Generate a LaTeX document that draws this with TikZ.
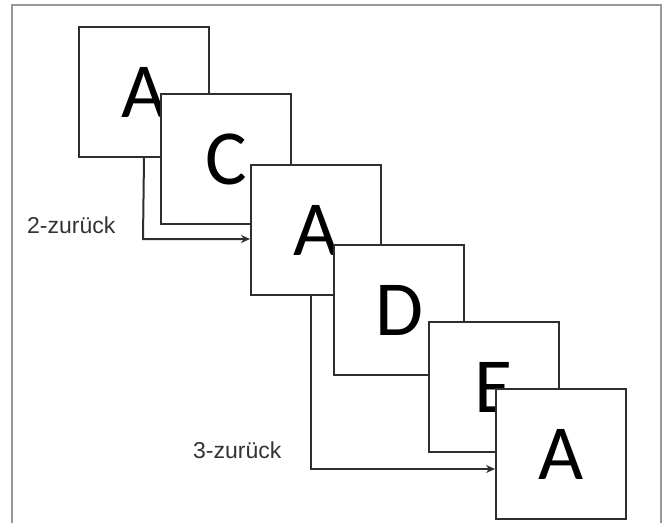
\documentclass[tikz,border=0pt]{standalone}
\usepackage{fontspec}
\setmainfont{Carlito}
\newfontfamily\labelfont{Liberation Sans}
\usetikzlibrary{arrows.meta,positioning}
\definecolor{boxline}{HTML}{2E2E2E}
\definecolor{frameline}{HTML}{999999}
\tikzset{
  card/.style={draw=boxline, line width=2pt, fill=white, minimum width=130pt, minimum height=130pt, inner sep=0pt, anchor=north west, font=\fontsize{78}{78}\selectfont},
  lbl/.style={font=\labelfont\fontsize{23}{23}\selectfont, text=black!80, anchor=west, inner sep=0pt},
  back/.style={draw=boxline, line width=2pt, -{Stealth[length=9pt,width=8pt]}},
}
\begin{document}
\begin{tikzpicture}[x=1pt,y=-1pt]
\useasboundingbox (0,0) rectangle (664,523);
\draw[frameline, line width=1.2pt] (12,523) -- (12,5) -- (661,5) -- (661,523);
\node[card] (b1) at (78,26) {A};
\node[card] (b2) at (160,93) {C};
\node[card] (b3) at (250,164) {A};
\node[card] (b4) at (333,244) {D};
\node[card] (b5) at (428,321) {E};
\node[card] (b6) at (495,388) {A};
\coordinate (k1) at (143,239);
\coordinate (k2) at (311,469);
\draw[back] (b1.south) -- (k1) -- (k1 -| b3.west);
\draw[back] (k2 |- b3.south) -- (k2) -- (k2 -| b6.west);
\node[lbl] (l2) at (27,225) {2-zurück};
\node[lbl] (l3) at (193,450) {3-zurück};
\end{tikzpicture}
\end{document}
